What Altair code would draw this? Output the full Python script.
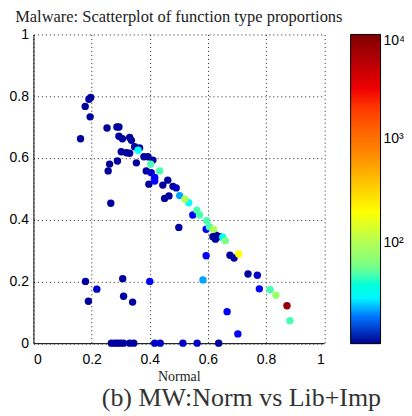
import altair as alt
import pandas as pd

# category colour levels (log-scale values of colour variable)
D, B2, B, LB, C, A, A2, YG, Y, R = 11.5, 13, 15, 23, 31, 50, 62, 100, 200, 8000

xs = [0.197, 0.191, 0.178, 0.195, 0.162, 0.253, 0.287, 0.294, 0.294, 0.306,
      0.331, 0.337, 0.302, 0.320, 0.331, 0.348, 0.365, 0.360, 0.354, 0.380,
      0.394, 0.411, 0.262, 0.257, 0.289, 0.388, 0.405, 0.417, 0.403, 0.434,
      0.397, 0.417, 0.445, 0.462, 0.480, 0.491, 0.451, 0.466, 0.503, 0.521,
      0.534, 0.266, 0.500, 0.548, 0.562, 0.571, 0.596, 0.594, 0.605, 0.619,
      0.617, 0.626, 0.628, 0.640, 0.651, 0.660, 0.594, 0.676, 0.690, 0.706,
      0.738, 0.770, 0.777, 0.814, 0.834, 0.872, 0.882, 0.583, 0.666, 0.703,
      0.179, 0.307, 0.218, 0.189, 0.310, 0.341, 0.400,
      0.268, 0.280, 0.290, 0.300, 0.310, 0.331, 0.345, 0.417, 0.436, 0.514,
      0.563, 0.637]
ys = [0.796, 0.790, 0.767, 0.733, 0.662, 0.697, 0.700, 0.700, 0.670, 0.662,
      0.666, 0.657, 0.620, 0.617, 0.615, 0.636, 0.632, 0.625, 0.584, 0.604,
      0.604, 0.593, 0.580, 0.558, 0.590, 0.558, 0.552, 0.537, 0.580, 0.558,
      0.515, 0.525, 0.512, 0.528, 0.508, 0.503, 0.469, 0.477, 0.478, 0.466,
      0.455, 0.453, 0.375, 0.415, 0.431, 0.415, 0.397, 0.369, 0.377, 0.369,
      0.345, 0.337, 0.350, 0.345, 0.343, 0.332, 0.283, 0.285, 0.276, 0.289,
      0.224, 0.220, 0.176, 0.173, 0.155, 0.121, 0.073, 0.205, 0.102, 0.030,
      0.200, 0.209, 0.175, 0.136, 0.152, 0.133, 0.200,
      0.0, 0.0, 0.0, 0.0, 0.0, 0.0, 0.0, 0.0, 0.0, 0.0,
      0.0, 0.0]
counts = [D, D, D, D, D, D, D, D, D, D,
          D, D, D, D, D, D, D, C, D, D,
          D, D, D, D, D, D, B2, B, A, A,
          D, B, D, D, D, B2, D, D, LB, YG,
          C, D, D, B, A, A, A, B, A, YG,
          D, D, D, D, C, A2, B, D, D, Y,
          D, B2, B, A, 80, R, A, LB, B, B,
          D, D, B2, D, D, D, B,
          D, D, D, D, D, D, D, B2, B2, B2,
          B2, D]

# jet-like colour bar stops (log-spaced)
cb_domain = [11, 15.1, 20.9, 30.9, 63, 200, 794, 2570, 10000]
cb_range = ["#00008F", "#0000FF", "#0080FF", "#00FFFF", "#80FF80",
            "#FFFF00", "#FF8000", "#FF0000", "#800000"]

df = pd.DataFrame({"Normal": xs, "LibImp": ys, "count": counts}).sort_values("count")

serif = "Liberation Serif"
sans = "Liberation Sans"

points = alt.Chart(df).mark_circle(size=55, opacity=1).encode(
    x=alt.X("Normal:Q", scale=alt.Scale(domain=[0, 1], nice=False),
            axis=alt.Axis(values=[0, 0.2, 0.4, 0.6, 0.8, 1], format=".1~f",
                          title="Normal", titleFont=serif, titleFontSize=14,
                          titleFontWeight="normal", titlePadding=3,
                          labelFont=sans, labelFontSize=14, labelPadding=9,
                          tickSize=0, labelColor="black", titleColor="#222")),
    y=alt.Y("LibImp:Q", scale=alt.Scale(domain=[0, 1], nice=False),
            axis=alt.Axis(values=[0, 0.2, 0.4, 0.6, 0.8, 1], format=".1~f",
                          title=None, labelFont=sans, labelFontSize=14,
                          labelPadding=5, tickSize=0, labelColor="black")),
    color=alt.Color("count:Q",
                    scale=alt.Scale(type="log", domain=cb_domain, range=cb_range),
                    legend=alt.Legend(title=None, orient="right", offset=26,
                                      gradientLength=310, gradientThickness=30,
                                      gradientStrokeColor="black", gradientStrokeWidth=1,
                                      values=[100, 1000, 10000],
                                      labelExpr="datum.value == 100 ? '10²' : datum.value == 1000 ? '10³' : '10⁴'",
                                      labelFont=sans, labelFontSize=14, labelColor="black",
                                      labelBaseline="middle", labelOffset=3, padding=0)),
)

caption = alt.Chart(pd.DataFrame({"t": ["(b) MW:Norm vs Lib+Imp"]})).mark_text(
    font=serif, fontSize=26, align="center", baseline="alphabetic", color="#333"
).encode(text="t:N", x=alt.value(208.5), y=alt.value(372))

chart = alt.layer(points, caption).properties(
    width=291.5, height=309.5,
    title=alt.TitleParams("Malware: Scatterplot of function type proportions",
                          font=serif, fontSize=16.5, fontWeight="normal",
                          anchor="middle", offset=2, color="#222"),
    autosize=alt.AutoSizeParams(type="none"),
    padding={"left": 25.5, "top": 26, "right": 80, "bottom": 70},
).configure_view(stroke=None).configure_axis(
    gridDash=[1, 3], gridColor="#222", gridOpacity=1, gridWidth=1,
    domainColor="black", domainWidth=1,
)

chart.save("out.html", embed_options={"renderer": "svg", "actions": False})
